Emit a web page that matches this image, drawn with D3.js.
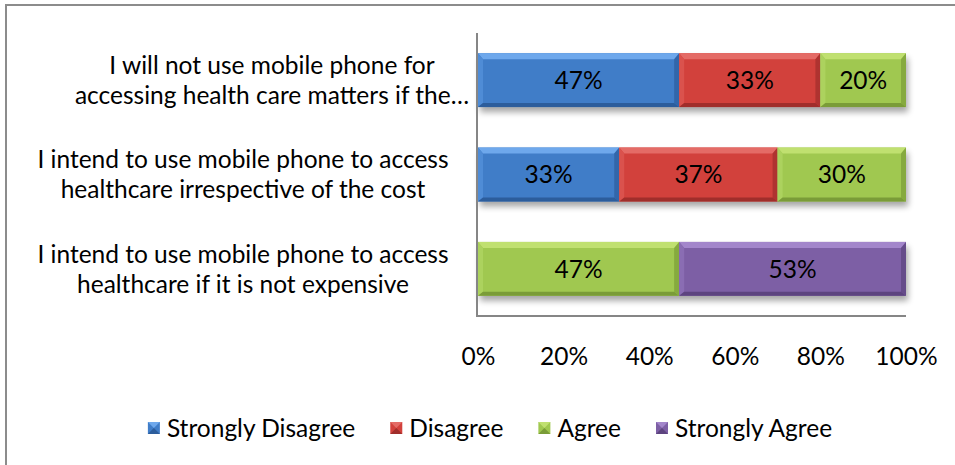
<!DOCTYPE html>
<html>
<head>
<meta charset="utf-8">
<script src="https://cdn.jsdelivr.net/npm/d3@7"></script>
<style>
  body { margin: 0; background: #fff; }
  svg text { font-family: Lato, "Open Sans", sans-serif; fill: #000; }
</style>
</head>
<body>
<svg id="chart" width="955" height="465"></svg>
<script>
// Survey statements (each wrapped onto two lines) and response shares in percent
const categories = [
  ["I will not use mobile phone for", "accessing health care matters if the…"],
  ["I intend to use mobile phone to access", "healthcare irrespective of the cost"],
  ["I intend to use mobile phone to access", "healthcare if it is not expensive"]
];
const seriesNames = ["Strongly Disagree", "Disagree", "Agree", "Strongly Agree"];
const stronglyDisagree = [47, 33, 0];
const disagree = [33, 37, 0];
const agree = [20, 30, 47];
const stronglyAgree = [0, 0, 53];
const tickValues = [0, 20, 40, 60, 80, 100];

const seriesValues = [stronglyDisagree, disagree, agree, stronglyAgree];

// Face / highlight / shade tones for the bevelled bars
const palette = [
  { face: "#407dc8", light: "#6ea8ec", side: "#4f8cd6", dark: "#2c5d9c" },
  { face: "#d2413c", light: "#e46b66", side: "#da524d", dark: "#a02e2b" },
  { face: "#a0c850", light: "#c0e070", side: "#acd25e", dark: "#7a9c38" },
  { face: "#7d5fa5", light: "#a386cb", side: "#8a6db3", dark: "#5d447f" }
];

const svg = d3.select("#chart");
const font = 24.5;

// Chart frame
svg.append("rect")
  .attr("x", 6).attr("y", 5).attr("width", 965).attr("height", 475)
  .attr("fill", "none").attr("stroke", "#8c8c8c").attr("stroke-width", 2);

const plot = { left: 478, right: 906, top: 33, bottom: 316 };

const x = d3.scaleLinear().domain([0, 100]).range([plot.left, plot.right]);
const gapRatio = 0.75 / 1.75;
const y = d3.scaleBand()
  .domain(d3.range(categories.length))
  .range([plot.top, plot.bottom])
  .paddingInner(gapRatio)
  .paddingOuter(gapRatio / 2);

// Stack the series per category
const rows = categories.map((c, i) => {
  let acc = 0;
  return seriesValues.map((vals, s) => {
    const v = vals[i];
    const seg = { cat: i, series: s, value: v, x0: acc, x1: acc + v };
    acc += v;
    return seg;
  });
});

const defs = svg.append("defs");
defs.append("filter").attr("id", "shadow")
  .attr("x", "-10%").attr("y", "-50%").attr("width", "120%").attr("height", "200%")
  .append("feGaussianBlur").attr("stdDeviation", 3);

// Soft shadow under each stacked bar
svg.append("g").selectAll("rect")
  .data(rows)
  .join("rect")
  .attr("x", d => x(0) + 2)
  .attr("y", (d, i) => y(i) + 5)
  .attr("width", d => x(d3.sum(d, s => s.value)) - x(0))
  .attr("height", y.bandwidth())
  .attr("fill", "#000")
  .attr("opacity", 0.35)
  .attr("filter", "url(#shadow)");

// Bevelled segments
const bt = 6, bs = 5, bb = 4;
const segG = svg.append("g").selectAll("g")
  .data(rows.flat().filter(d => d.value > 0))
  .join("g");

segG.each(function (d) {
  const g = d3.select(this);
  const c = palette[d.series];
  const x0 = x(d.x0), x1 = x(d.x1);
  const y0 = y(d.cat), y1 = y0 + y.bandwidth();
  const ix0 = x0 + bs, ix1 = x1 - bs, iy0 = y0 + bt, iy1 = y1 - bb;
  const poly = pts => pts.map(p => p.join(",")).join(" ");
  g.append("rect").attr("x", x0).attr("y", y0).attr("width", x1 - x0).attr("height", y1 - y0).attr("fill", c.face);
  g.append("polygon").attr("points", poly([[x0, y0], [x1, y0], [ix1, iy0], [ix0, iy0]])).attr("fill", c.light);
  g.append("polygon").attr("points", poly([[x0, y0], [ix0, iy0], [ix0, iy1], [x0, y1]])).attr("fill", c.side);
  g.append("polygon").attr("points", poly([[x1, y0], [x1, y1], [ix1, iy1], [ix1, iy0]])).attr("fill", c.dark).attr("opacity", 0.7);
  g.append("polygon").attr("points", poly([[x0, y1], [ix0, iy1], [ix1, iy1], [x1, y1]])).attr("fill", c.dark);
  g.append("text")
    .attr("x", (x0 + x1) / 2)
    .attr("y", (y0 + y1) / 2)
    .attr("dy", "0.36em")
    .attr("text-anchor", "middle")
    .attr("font-size", font)
    .text(d.value + "%");
});

// Axes
const xAxis = svg.append("g")
  .attr("transform", `translate(0,${plot.bottom})`)
  .call(d3.axisBottom(x).tickValues(tickValues).tickFormat(d => d + "%").tickSize(0).tickPadding(32));
xAxis.select(".domain").attr("stroke", "#868686").attr("stroke-width", 2).attr("d", `M${plot.left - 1},0H${plot.right}`);
xAxis.selectAll("text").attr("font-size", font).attr("font-family", null);

const yAxis = svg.append("g")
  .attr("transform", `translate(${plot.left - 1},0)`)
  .call(d3.axisLeft(y).tickSize(0).tickFormat(""));
yAxis.select(".domain").attr("stroke", "#868686").attr("stroke-width", 2).attr("d", `M0,${plot.top}V${plot.bottom + 1}`);

// Category labels, centred two-line blocks left of the axis
const labelCentre = [272, 243, 243];
const lineH = 30;
svg.append("g").selectAll("text")
  .data(categories)
  .join("text")
  .attr("text-anchor", "middle")
  .attr("font-size", font)
  .each(function (lines, i) {
    const t = d3.select(this);
    const cy = y(i) + y.bandwidth() / 2;
    lines.forEach((ln, k) => {
      t.append("tspan")
        .attr("x", labelCentre[i])
        .attr("y", cy + (k - (lines.length - 1) / 2) * lineH)
        .attr("dy", "0.36em")
        .text(ln);
    });
  });

// Legend
const legend = svg.append("g");
const items = legend.selectAll("g").data(seriesNames).join("g");
items.append("text")
  .attr("x", 19)
  .attr("y", 0)
  .attr("dy", "0.36em")
  .attr("font-size", font)
  .text(d => d);
items.each(function (d, i) {
  const g = d3.select(this);
  const c = palette[i];
  const s = 12, h = s / 2;
  const tri = pts => pts.map(p => p.join(",")).join(" ");
  g.append("rect").attr("x", 0).attr("y", -h).attr("width", s).attr("height", s).attr("fill", c.face);
  g.append("polygon").attr("points", tri([[0, -h], [s, -h], [h, 0]])).attr("fill", c.light);
  g.append("polygon").attr("points", tri([[0, h], [s, h], [h, 0]])).attr("fill", c.dark);
});
let cursor = 0;
const itemGap = 35;
const widths = [];
items.each(function () { widths.push(this.getBBox().width); });
const total = d3.sum(widths) + itemGap * (widths.length - 1);
cursor = 490 - total / 2;
items.attr("transform", (d, i) => {
  const tx = cursor;
  cursor += widths[i] + itemGap;
  return `translate(${tx},428)`;
});
</script>
</body>
</html>
